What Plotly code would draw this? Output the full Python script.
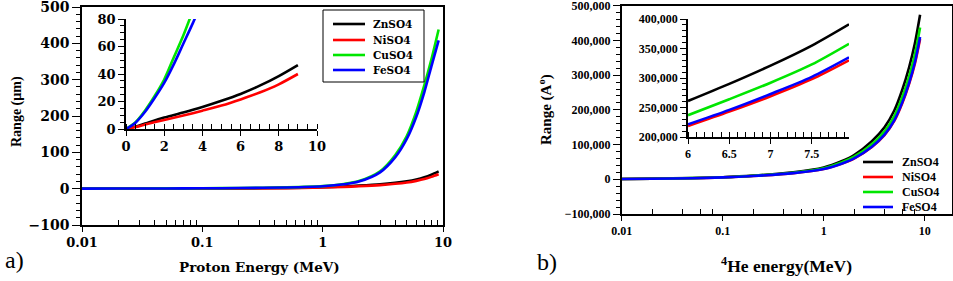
import plotly.graph_objects as go

W, H = 953, 281

# ---------------- data ----------------
names = ["ZnSO4", "NiSO4", "CuSO4", "FeSO4"]
colors = ["#000000", "#ff0000", "#00e600", "#0000ff"]

# panel a, main (proton energy, MeV ; range, um)
E_a = [0.01, 0.02, 0.05, 0.1, 0.2, 0.5, 1, 1.5, 2, 3, 4, 5, 6, 7, 8, 9.2]
Zn_a = [0.1, 0.15, 0.3, 0.5, 0.9, 1.9, 4.0, 6.1, 8.3, 12.0, 16.0, 20.5, 25.5, 31.5, 38.5, 47.5]
Ni_a = [0.1, 0.13, 0.25, 0.4, 0.7, 1.5, 3.2, 4.9, 6.6, 9.8, 13.3, 17.0, 21.5, 26.5, 32.5, 39.5]
Cu_a = [0.2, 0.35, 0.7, 1.1, 1.8, 3.5, 7.0, 13.0, 21.0, 48.0, 92.0, 145.0, 212.0, 285.0, 355.0, 438.0]
Fe_a = [0.2, 0.33, 0.65, 1.0, 1.7, 3.3, 6.6, 12.0, 19.5, 45.0, 86.0, 137.0, 198.0, 266.0, 336.0, 408.0]

# panel a, inset (linear energy axis)
E_ai = [0, 0.5, 1, 2, 3, 4, 5, 6, 7, 8, 9]
Zn_ai = [0, 1.8, 4.0, 8.3, 12.0, 16.0, 20.5, 25.5, 31.5, 38.5, 46.5]
Ni_ai = [0, 1.4, 3.2, 6.6, 9.8, 13.3, 17.0, 21.5, 26.5, 32.5, 40.0]
E_ai2 = [0, 0.5, 1, 1.5, 2, 2.5, 3, 3.5, 4]
Cu_ai = [0, 5.0, 13.5, 24.0, 36.0, 52.0, 68.0, 86.0, 104.0]
Fe_ai = [0, 4.6, 12.5, 22.5, 33.5, 47.0, 62.0, 77.0, 93.0]

# panel b, main (4He energy, MeV ; range, Angstrom)
E_b = [0.01, 0.02, 0.05, 0.1, 0.2, 0.5, 1, 1.5, 2, 3, 4, 5, 6, 7, 8, 9]
Zn_b = [1000, 1800, 3500, 6000, 10500, 20000, 34000, 52000, 70000, 110000, 150000, 198000, 258000, 322000, 392000, 474000]
Ni_b = [900, 1600, 3100, 5400, 9400, 17500, 29500, 44500, 59500, 93000, 127000, 168000, 219000, 274000, 333000, 404000]
Cu_b = [950, 1700, 3300, 5700, 10000, 19000, 32000, 48500, 65000, 101000, 138000, 182000, 237000, 296000, 360000, 437000]
Fe_b = [910, 1620, 3150, 5450, 9500, 17700, 29800, 45000, 60200, 94000, 128500, 170000, 221500, 277000, 337000, 410000]

# panel b, inset
E_bi = [6, 6.5, 7, 7.5, 7.95]
Zn_bi = [261000, 290000, 321000, 355000, 391000]
Ni_bi = [218500, 243000, 269000, 298000, 330000]
Cu_bi = [237000, 264000, 292000, 323000, 358000]
Fe_bi = [221500, 246000, 273000, 302000, 335000]

xticks_log = [0.01, 0.1, 1, 10]
xticklabels_log = ["0.01", "0.1", "1", "10"]

# ---------------- helpers ----------------
def px_x(p):
    return p / W

def px_y(p):
    return 1 - p / H

SERIF_W = "DejaVu Serif"
SERIF = "Liberation Serif"

minor_a = [m * d for d in (0.01, 0.1, 1) for m in range(2, 10)]
minor_b = [m * d for d in (0.01, 0.1, 1, 10) for m in (2, 4, 6, 8)]

fig = go.Figure()

def add_set(xs_list, ys_list, xa, ya, width=2.6):
    for i in range(4):
        fig.add_trace(go.Scatter(
            x=xs_list[i], y=ys_list[i], mode="lines", name=names[i],
            line=dict(color=colors[i], width=width, shape="spline", smoothing=0.8),
            xaxis=xa, yaxis=ya, showlegend=False))

add_set([E_a] * 4, [Zn_a, Ni_a, Cu_a, Fe_a], "x", "y")
add_set([E_ai, E_ai, E_ai2, E_ai2], [Zn_ai, Ni_ai, Cu_ai, Fe_ai], "x3", "y3")
add_set([E_b] * 4, [Zn_b, Ni_b, Cu_b, Fe_b], "x4", "y4")
add_set([E_bi] * 4, [Zn_bi, Ni_bi, Cu_bi, Fe_bi], "x6", "y6")

# ---------------- geometry ----------------
dom_a_x = [px_x(82), px_x(443)]
dom_a_y = [px_y(225), px_y(7)]
dom_ai_x = [px_x(126), px_x(317)]
dom_ai_y = [px_y(129), px_y(19)]
dom_b_x = [px_x(621.7), px_x(951.5)]
dom_b_y = [px_y(214), px_y(5.7)]
dom_bi_x = [px_x(688), px_x(849)]
dom_bi_y = [px_y(137), px_y(19)]

b_xmax = -2 + (951.5 - 621.7) / 101.0

fa = dict(family=SERIF_W, size=13, color="black", weight="bold")
fb = dict(family=SERIF, size=12, color="black", weight="bold")

common = dict(showgrid=False, zeroline=False, linecolor="black", linewidth=1.5,
              tickcolor="black", tickwidth=1.2, automargin=False,
              ticklabeloverflow="allow")

layout = dict(
    width=W, height=H, margin=dict(l=0, r=0, t=0, b=0, autoexpand=False),
    paper_bgcolor="white", plot_bgcolor="rgba(0,0,0,0)",
    # panel a main
    xaxis=dict(common, type="log", domain=dom_a_x, anchor="y", range=[-2, 1],
               tickmode="array", tickvals=xticks_log, ticktext=xticklabels_log,
               ticks="outside", ticklen=5, tickfont=fa, mirror=True,
               minor=dict(tickmode="array", tickvals=minor_a, ticks="inside",
                          ticklen=5, tickcolor="black", tickwidth=1)),
    yaxis=dict(common, domain=dom_a_y, anchor="x", range=[-100, 500],
               dtick=100, ticks="outside", ticklen=8, mirror=True,
               tickfont=dict(fa, size=14),
               minor=dict(dtick=20, ticks="outside", ticklen=4,
                          tickcolor="black", tickwidth=1)),
    xaxis2=dict(common, type="log", overlaying="x", side="top", anchor="y",
                range=[-2, 1], tickmode="array", tickvals=xticks_log,
                ticks="inside", ticklen=6, showticklabels=False, showline=False,
                minor=dict(tickmode="array", tickvals=minor_a, ticks="inside",
                           ticklen=4, tickcolor="black", tickwidth=1)),
    yaxis2=dict(common, overlaying="y", side="right", anchor="x",
                range=[-100, 500], dtick=100, ticks="inside", ticklen=7,
                showticklabels=False, showline=False,
                minor=dict(dtick=20, ticks="inside", ticklen=4,
                           tickcolor="black", tickwidth=1)),
    # panel a inset
    xaxis3=dict(common, domain=dom_ai_x, anchor="y3", range=[0, 10], dtick=2,
                ticks="outside", ticklen=5, tickfont=fa,
                minor=dict(dtick=0.5, ticks="inside", ticklen=5,
                           tickcolor="black", tickwidth=1)),
    yaxis3=dict(common, domain=dom_ai_y, anchor="x3", range=[0, 80], dtick=20,
                ticks="outside", ticklen=6, tickfont=fa,
                minor=dict(dtick=5, ticks="outside", ticklen=4,
                           tickcolor="black", tickwidth=1)),
    # panel b main
    xaxis4=dict(common, type="log", domain=dom_b_x, anchor="y4",
                range=[-2, b_xmax], tickmode="array", tickvals=xticks_log,
                ticktext=xticklabels_log, ticks="outside", ticklen=5,
                tickfont=fb, mirror=True,
                minor=dict(tickmode="array", tickvals=minor_b, ticks="inside",
                           ticklen=5, tickcolor="black", tickwidth=1)),
    yaxis4=dict(common, domain=dom_b_y, anchor="x4", range=[-100000, 500000],
                dtick=100000, tickformat=",", ticks="outside", ticklen=7,
                tickfont=fb, mirror=True,
                minor=dict(dtick=20000, ticks="outside", ticklen=4,
                           tickcolor="black", tickwidth=1)),
    xaxis5=dict(common, type="log", overlaying="x4", side="top", anchor="y4",
                range=[-2, b_xmax], tickmode="array", tickvals=xticks_log,
                ticks="inside", ticklen=6, showticklabels=False, showline=False,
                minor=dict(tickmode="array", tickvals=minor_b, ticks="inside",
                           ticklen=4, tickcolor="black", tickwidth=1)),
    yaxis5=dict(common, overlaying="y4", side="right", anchor="x4",
                range=[-100000, 500000], dtick=100000, ticks="inside",
                ticklen=6, showticklabels=False, showline=False,
                minor=dict(dtick=20000, ticks="inside", ticklen=4,
                           tickcolor="black", tickwidth=1)),
    # panel b inset
    xaxis6=dict(common, domain=dom_bi_x, anchor="y6", range=[6, 7.95],
                tickmode="array", tickvals=[6, 6.5, 7, 7.5],
                ticktext=["6", "6.5", "7", "7.5"], ticks="outside", ticklen=5,
                tickfont=fb,
                minor=dict(dtick=0.1, tick0=6, ticks="inside", ticklen=5,
                           tickcolor="black", tickwidth=1)),
    yaxis6=dict(common, domain=dom_bi_y, anchor="x6", range=[200000, 400000],
                dtick=50000, tickformat=",", ticks="outside", ticklen=6,
                tickfont=fb,
                minor=dict(dtick=10000, ticks="outside", ticklen=4,
                           tickcolor="black", tickwidth=1)),
    showlegend=False,
)
fig.update_layout(**layout)

# ---------------- legends (key lines + labels, paper coordinates) ----------------
shapes = [dict(type="rect", xref="paper", yref="paper",
               x0=px_x(323), x1=px_x(424), y0=px_y(82), y1=px_y(10),
               line=dict(color="black", width=1), fillcolor="white", layer="above")]
ann = []
leg_a_rows = [24, 40, 55, 70]
leg_b_rows = [162, 177, 192, 207]
for i in range(4):
    shapes.append(dict(type="line", xref="paper", yref="paper",
                       x0=px_x(333), x1=px_x(365), y0=px_y(leg_a_rows[i]), y1=px_y(leg_a_rows[i]),
                       line=dict(color=colors[i], width=2.6), layer="above"))
    ann.append(dict(text=names[i], x=px_x(371), y=px_y(leg_a_rows[i]), xanchor="left",
                    font=dict(family=SERIF_W, size=10.5, color="black", weight="bold")))
    shapes.append(dict(type="line", xref="paper", yref="paper",
                       x0=px_x(863), x1=px_x(893), y0=px_y(leg_b_rows[i]), y1=px_y(leg_b_rows[i]),
                       line=dict(color=colors[i], width=2.6), layer="above"))
    ann.append(dict(text=names[i], x=px_x(900), y=px_y(leg_b_rows[i]), xanchor="left",
                    font=dict(family=SERIF, size=12, color="black", weight="bold")))
fig.update_layout(shapes=shapes)

ann += [
    dict(text="Proton Energy (MeV)", x=px_x(259.5), y=px_y(267),
         font=dict(family=SERIF_W, size=13.5, color="black", weight="bold")),
    dict(text="Range (µm)", x=px_x(17), y=px_y(112), textangle=-90,
         font=dict(family=SERIF, size=14, color="black", weight="bold")),
    dict(text="<sup>4</sup>He energy(MeV)", x=px_x(786), y=px_y(265),
         font=dict(family=SERIF, size=17.5, color="black", weight="bold")),
    dict(text="Range (A<sup>o</sup>)", x=px_x(545), y=px_y(110), textangle=-90,
         font=dict(family=SERIF, size=15, color="black", weight="bold")),
    dict(text="a)", x=px_x(15), y=px_y(260),
         font=dict(family=SERIF, size=24, color="black")),
    dict(text="b)", x=px_x(547), y=px_y(262),
         font=dict(family=SERIF, size=24, color="black")),
]
for a in ann:
    a.setdefault("xanchor", "center")
    fig.add_annotation(xref="paper", yref="paper", showarrow=False,
                       yanchor="middle", **a)

fig.write_html(
    "out.html",
    config={"displayModeBar": False},
    post_script="document.body.style.margin='0';document.body.style.padding='0';"
                "document.documentElement.style.overflow='hidden';",
)
